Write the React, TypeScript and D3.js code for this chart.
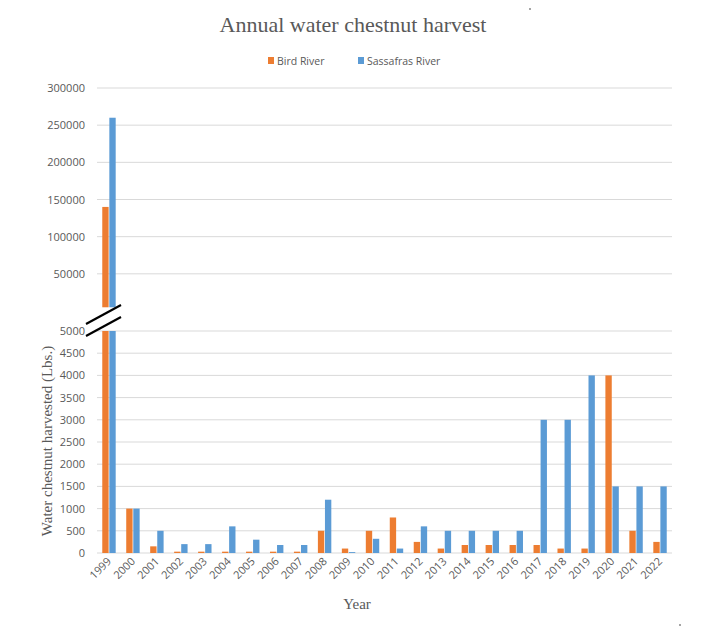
import * as d3 from 'd3';

const years = ['1999', '2000', '2001', '2002', '2003', '2004', '2005', '2006', '2007', '2008', '2009', '2010',
  '2011', '2012', '2013', '2014', '2015', '2016', '2017', '2018', '2019', '2020', '2021', '2022'];
const birdRiver = [140000, 1000, 150, 30, 30, 30, 30, 30, 30, 500, 100, 500,
  800, 250, 100, 180, 180, 180, 180, 100, 100, 4000, 500, 250];
const sassafrasRiver = [260000, 1000, 500, 200, 200, 600, 300, 180, 180, 1200, 20, 320,
  100, 600, 500, 500, 500, 500, 3000, 3000, 4000, 1500, 1500, 1500];
const seriesNames = ['Bird River', 'Sassafras River'];
const upperTicks = [50000, 100000, 150000, 200000, 250000, 300000];
const lowerTicks = [0, 500, 1000, 1500, 2000, 2500, 3000, 3500, 4000, 4500, 5000];

const colors = ['#ED7D31', '#5B9BD5'];
const grid = '#d9d9d9';
const textCol = '#595959';
const sans = '"Open Sans", "Noto Sans", sans-serif';
const serif = '"Liberation Serif", serif';

const W = 709;
const H = 632;
const left = 97;
const right = 672;
const breakValue = 5000;

export default function App() {
  const x0 = d3.scaleBand<string>().domain(years).range([left, right]).paddingInner(0.44).paddingOuter(0.22);
  const x1 = d3.scaleBand<number>().domain([0, 1]).range([0, x0.bandwidth()]).paddingInner(0.1);
  const yTop = d3.scaleLinear().domain([0, 300000]).range([311, 88]);
  const yLow = d3.scaleLinear().domain([0, breakValue]).range([553, 331]);
  const data = [birdRiver, sassafrasRiver];

  const bars: JSX.Element[] = [];
  years.forEach((yr, i) => {
    data.forEach((vals, s) => {
      const v = vals[i];
      const bx = (x0(yr) ?? 0) + (x1(s) ?? 0);
      const bw = x1.bandwidth();
      const lowTop = yLow(Math.min(v, breakValue));
      bars.push(
        <rect key={`l${i}-${s}`} x={bx} y={lowTop} width={bw} height={yLow(0) - lowTop} fill={colors[s]} />
      );
      // values above the break continue in the upper panel
      if (v > breakValue) {
        const t = yTop(v);
        bars.push(
          <rect key={`u${i}-${s}`} x={bx} y={t} width={bw} height={yTop(breakValue) - t} fill={colors[s]} />
        );
      }
    });
  });

  return (
    <svg width={W} height={H} style={{ position: 'absolute', left: 0, top: 0, background: '#fff' }}>
      <rect width={W} height={H} fill="#fff" />
      <text x={353} y={32} textAnchor="middle" fontFamily={serif} fontSize={22} fill={textCol}>
        Annual water chestnut harvest
      </text>

      {/* legend */}
      {seriesNames.map((n, i) => {
        const lx = i === 0 ? 268 : 358;
        return (
          <g key={n}>
            <rect x={lx} y={57} width={6} height={7} fill={colors[i]} />
            <text x={lx + 9} y={65} fontFamily={sans} fontSize={10.5} fill={textCol}>{n}</text>
          </g>
        );
      })}

      {/* upper grid */}
      {upperTicks.map((t) => (
        <g key={`ut${t}`}>
          <line x1={left} x2={right} y1={yTop(t)} y2={yTop(t)} stroke={grid} />
          <text x={85} y={yTop(t) + 4} textAnchor="end" fontFamily={sans} fontSize={11} fill={textCol}>{t}</text>
        </g>
      ))}

      {/* lower grid */}
      {lowerTicks.map((t) => (
        <g key={`lt${t}`}>
          <line x1={left} x2={right} y1={yLow(t)} y2={yLow(t)} stroke={grid} />
          <text x={85} y={yLow(t) + 4} textAnchor="end" fontFamily={sans} fontSize={11} fill={textCol}>{t}</text>
        </g>
      ))}

      {bars}

      {/* axis break */}
      <line x1={86} y1={324} x2={121} y2={305} stroke="#000" strokeWidth={2.2} />
      <line x1={86} y1={336} x2={121} y2={317} stroke="#000" strokeWidth={2.2} />

      {/* x tick labels */}
      {years.map((yr) => {
        const cx = (x0(yr) ?? 0) + x0.bandwidth() / 2 + 3;
        return (
          <text key={yr} transform={`translate(${cx},${562}) rotate(-45)`} textAnchor="end"
            fontFamily={sans} fontSize={11} fill={textCol}>{yr}</text>
        );
      })}

      <text x={357} y={609} textAnchor="middle" fontFamily={serif} fontSize={15} fill={textCol}>Year</text>
      <text transform={`translate(52,441) rotate(-90)`} textAnchor="middle" fontFamily={serif} fontSize={15} fill={textCol}>
        Water chestnut harvested (Lbs.)
      </text>

      <circle cx={530} cy={9} r={0.8} fill="#333" />
      <circle cx={680} cy={625} r={0.8} fill="#333" />
    </svg>
  );
}
